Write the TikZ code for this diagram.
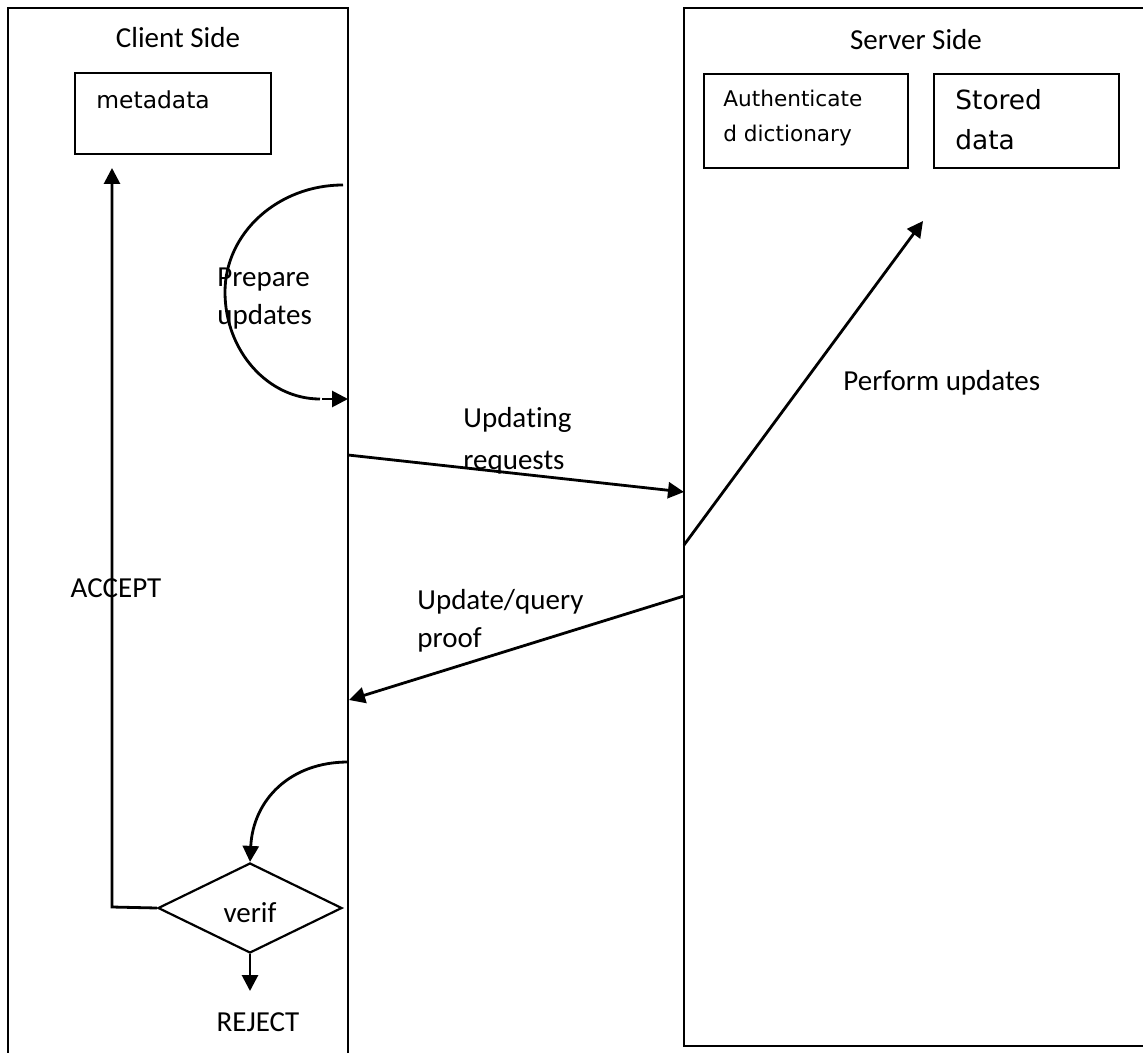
\documentclass[tikz,border=0pt]{standalone}
\usepackage{fontspec}
\setmainfont[Ligatures=NoCommon]{Carlito}
\newfontfamily\boxfont{DejaVu Sans}
\usetikzlibrary{shapes.geometric,arrows.meta}
\begin{document}
\begin{tikzpicture}[x=0.5pt,y=-0.5pt,
  frame/.style={line width=0.8pt},
  plain/.style={line width=1.4pt},
  flow/.style={line width=1.4pt,-{Triangle[length=8pt,width=8pt]}},
  store/.style={draw,line width=0.8pt,anchor=north west,inner sep=0pt},
  lbl/.style={font=\fontsize{14.5}{19}\selectfont,inner sep=0pt},
  boxtxt/.style={inner sep=0pt,align=left,anchor=west},
]
\useasboundingbox (0,0) rectangle (1143,1053);

% client and server frames
\draw[frame] (348,1053) -- (348,8) -- (8,8) -- (8,1053);
\draw[frame] (1143,1046) -- (684,1046) -- (684,8) -- (1143,8);
\node[lbl] (client) at (178,38) {Client Side};
\node[lbl] (server) at (916,40) {Server Side};

% stores
\node[store,minimum width=98pt,minimum height=40.5pt] (meta) at (74,72) {};
\node[boxtxt,font=\boxfont\fontsize{11.7}{14}\selectfont] (metatxt) at (96,100) {metadata};
\node[store,minimum width=102pt,minimum height=47pt] (auth) at (703,73) {};
\node[boxtxt,font=\boxfont\fontsize{10.8}{17.5}\selectfont] (authtxt) at (723,118) {Authenticate\\d dictionary};
\node[store,minimum width=92.5pt,minimum height=47pt] (stored) at (933,73) {};
\node[boxtxt,font=\boxfont\fontsize{13.2}{20}\selectfont] (storedtxt) at (955,120) {Stored\\data};

% lifeline points
\coordinate (prepA) at (343,185);
\coordinate (prepB) at (320,399);
\coordinate (prepC) at (322,399);
\coordinate (prepD) at (348,399);
\coordinate (reqA) at (348,455);
\coordinate (reqB) at (684,492);
\coordinate (perfA) at (684,545);
\coordinate (perfB) at (923,221);
\coordinate (proofA) at (684,596);
\coordinate (proofB) at (349,700);
\coordinate (verA) at (348,762);
\coordinate (accBend) at (112,907);
\coordinate (accTip) at (112,168);
\coordinate (rejTip) at (250,991);

% decision
\node[draw,diamond,aspect=2,minimum width=92pt,minimum height=45pt,line width=1.1pt,lbl] (verif) at (250,908) {};
\node[lbl] (veriftxt) at (250,913) {verif};

% messages
\draw[plain] (prepA) .. controls (278,185) and (225,233) .. (225,292)
                     .. controls (225,351) and (268,399) .. (prepB);
\draw[flow] (prepC) -- (prepD);
\node[lbl,align=left,anchor=west] (preptxt) at (217,299) {Prepare\\updates};

\draw[flow] (reqA) -- (reqB);
\node[lbl,align=left,anchor=west,font=\fontsize{14.5}{21}\selectfont] (reqtxt) at (463,441) {Upda\kern0pt ting\\requests};

\draw[flow] (perfA) -- (perfB);
\node[lbl,anchor=west] (perftxt) at (843,383) {Perform updates};

\draw[flow] (proofA) -- (proofB);
\node[lbl,align=left,anchor=west] (prooftxt) at (417,621) {Update/query\\proof};

\draw[flow] (verA) .. controls (290,762) and (253,800) .. (verif.north);

% outcomes
\draw[flow] (verif.west) -- (accBend) -- (accTip);
\node[lbl] (accept) at (116,588) {ACCEPT};
\draw[flow] (verif.south) -- (rejTip);
\node[lbl] (reject) at (258,1022) {REJECT};
\end{tikzpicture}
\end{document}
